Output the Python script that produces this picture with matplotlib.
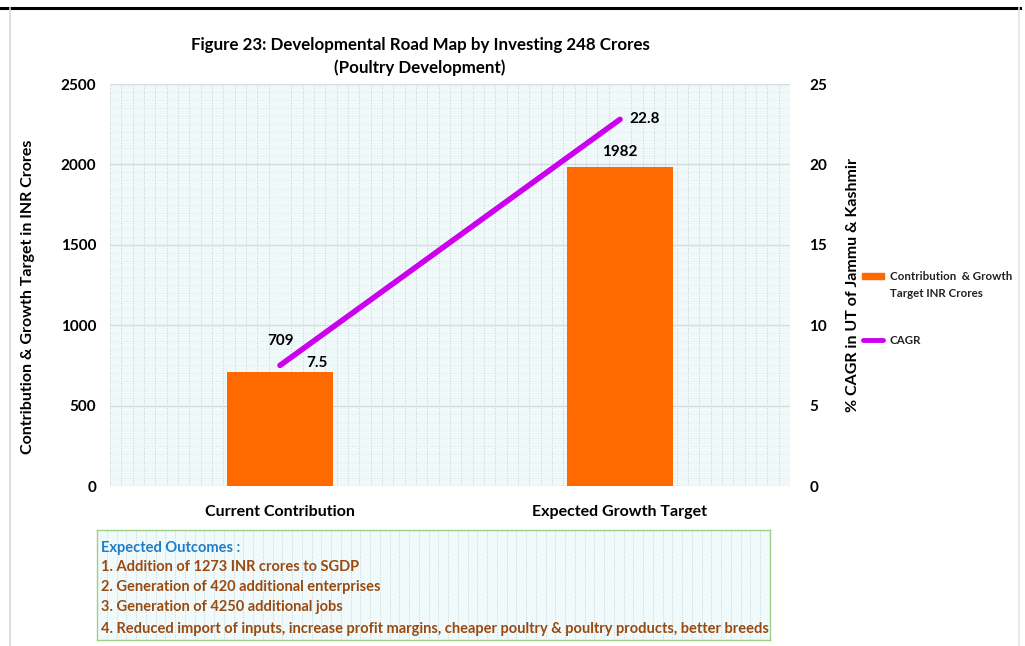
import matplotlib
matplotlib.use("Agg")
import matplotlib.pyplot as plt
import numpy as np
from matplotlib.patches import Rectangle
from matplotlib.lines import Line2D

categories = ["Current Contribution", "Expected Growth Target"]
contribution = [709, 1982]
cagr = [7.5, 22.8]
left_ticks = [0, 500, 1000, 1500, 2000, 2500]
right_ticks = [0, 5, 10, 15, 20, 25]
outcomes = [
    "1. Addition of 1273 INR crores to SGDP",
    "2. Generation of 420 additional enterprises",
    "3. Generation of 4250 additional jobs",
    "4. Reduced import of inputs, increase profit margins, cheaper poultry & poultry products, better breeds",
]

plt.rcParams['font.family'] = ['Lato', 'DejaVu Sans']

W, H = 1025, 646
fig = plt.figure(figsize=(W / 100, H / 100), dpi=100)
fig.patch.set_facecolor("white")

def fx(px):
    return px / W

def fy(py):
    return 1 - py / H

# frame lines
fig.add_artist(Line2D([0, fx(1020)], [fy(8), fy(8)], color="black", lw=2.2))
fig.add_artist(Line2D([fx(10), fx(10)], [fy(8), 0], color="#d8d8d8", lw=1.2))
fig.add_artist(Line2D([fx(1019), fx(1019)], [fy(8), 0], color="#e4e4e4", lw=1.2))

ax = fig.add_axes([fx(110), fy(486), fx(790) - fx(110), fy(84) - fy(486)])
ax.set_facecolor("#eff9fa")
x = np.arange(len(categories))
ax.set_xlim(-0.5, 1.5)
ax.set_ylim(0, 2500)
ax.set_yticks(left_ticks)
ax.set_yticklabels([str(t) for t in left_ticks], fontsize=11, fontweight="bold")
ax.set_xticks(x)
ax.set_xticklabels(categories, fontsize=11.5, fontweight="bold")
ax.tick_params(length=0, pad=10)
ax.tick_params(axis="x", pad=14)
for s in ax.spines.values():
    s.set_visible(False)

# dotted background texture
ax.set_xticks(np.linspace(-0.5, 1.5, 61), minor=True)
ax.set_yticks(np.linspace(0, 2500, 51), minor=True)
ax.grid(which="minor", axis="x", color="#b8c4c8", lw=0.6, ls=(0, (1, 2)))
ax.grid(which="minor", axis="y", color="#cfdadc", lw=0.5, ls=(0, (1, 3)))
ax.grid(which="major", axis="y", color="#d6dcdc", lw=1.0, ls="-")
ax.grid(which="major", axis="x", visible=False)
ax.tick_params(which="minor", length=0)
ax.set_axisbelow(True)

ax.bar(x, contribution, width=0.31, color="#ff6a00", zorder=2)
ax.set_ylabel("Contribution & Growth Target in INR Crores", fontsize=11.5,
              fontweight="bold")
ax.yaxis.set_label_coords((35 - 110) / 680, 0.47)

ax2 = ax.twinx()
ax2.set_ylim(0, 25)
ax2.set_yticks(right_ticks)
ax2.set_yticklabels([str(t) for t in right_ticks], fontsize=11, fontweight="bold")
ax2.tick_params(length=0, pad=14)
for s in ax2.spines.values():
    s.set_visible(False)
ax2.plot(x, cagr, color="#cc00ee", lw=4, solid_capstyle="round", zorder=3)
ax2.set_ylabel("% CAGR in UT of Jammu & Kashmir", fontsize=11.5, fontweight="bold")
ax2.yaxis.set_label_coords((846 - 110) / 680, 0.5)

# data labels
ax.annotate(str(contribution[0]), (x[0], contribution[0]), xytext=(0, 17),
            textcoords="offset points", ha="center", va="bottom",
            fontsize=11, fontweight="bold")
ax.annotate(str(contribution[1]), (x[1], contribution[1]), xytext=(0, 6),
            textcoords="offset points", ha="center", va="bottom",
            fontsize=11, fontweight="bold")
ax2.annotate(str(cagr[0]), (x[0], cagr[0]), xytext=(19, 2),
             textcoords="offset points", ha="left", va="center",
             fontsize=11, fontweight="bold")
ax2.annotate(str(cagr[1]), (x[1], cagr[1]), xytext=(7, 0),
             textcoords="offset points", ha="left", va="center",
             fontsize=11, fontweight="bold")

# title
fig.text(fx(420), fy(45), "Figure 23: Developmental Road Map by Investing 248 Crores",
         ha="center", va="center", fontsize=12.2, fontweight="bold")
fig.text(fx(420), fy(68), "(Poultry Development)",
         ha="center", va="center", fontsize=12.2, fontweight="bold")

# legend (drawn manually to match the reference layout)
fig.add_artist(Rectangle((fx(862), fy(279)), fx(884) - fx(862), fy(273) - fy(279),
                         color="#ff6a00", transform=fig.transFigure))
fig.text(fx(890), fy(276), "Contribution  & Growth", ha="left", va="center",
         fontsize=8.3, fontweight="bold", color="#222222")
fig.text(fx(890), fy(294), "Target INR Crores", ha="left", va="center",
         fontsize=8.3, fontweight="bold", color="#222222")
fig.add_artist(Line2D([fx(863), fx(883)], [fy(340), fy(340)], color="#cc00ee", lw=3.5,
                      solid_capstyle="round"))
fig.text(fx(890), fy(340), "CAGR", ha="left", va="center",
         fontsize=8.3, fontweight="bold", color="#222222")

# outcomes box
bx0, by0, bx1, by1 = 97, 530, 770, 640
bax = fig.add_axes([fx(bx0), fy(by1), fx(bx1) - fx(bx0), fy(by0) - fy(by1)])
bax.set_facecolor("#f0fafa")
bax.set_xlim(0, 1)
bax.set_ylim(0, 1)
bax.set_xticks(np.linspace(0, 1, 70), minor=True)
bax.set_xticks([])
bax.set_yticks([])
bax.grid(which="minor", axis="x", color="#b8c4c8", lw=0.6, ls=(0, (1, 2)))
bax.tick_params(which="minor", length=0)
for s in bax.spines.values():
    s.set_color("#9fd08a")
    s.set_linewidth(1.0)
lines_y = [548, 567, 587, 607, 629]
fig.text(fx(101), fy(lines_y[0]), "Expected Outcomes :", ha="left", va="center",
         fontsize=10.5, fontweight="bold", color="#1f7dc8")
for t, yy in zip(outcomes, lines_y[1:]):
    fig.text(fx(101), fy(yy), t, ha="left", va="center",
             fontsize=10.5, fontweight="bold", color="#9a4a10")

fig.savefig("out.png", dpi=100, facecolor="white")
